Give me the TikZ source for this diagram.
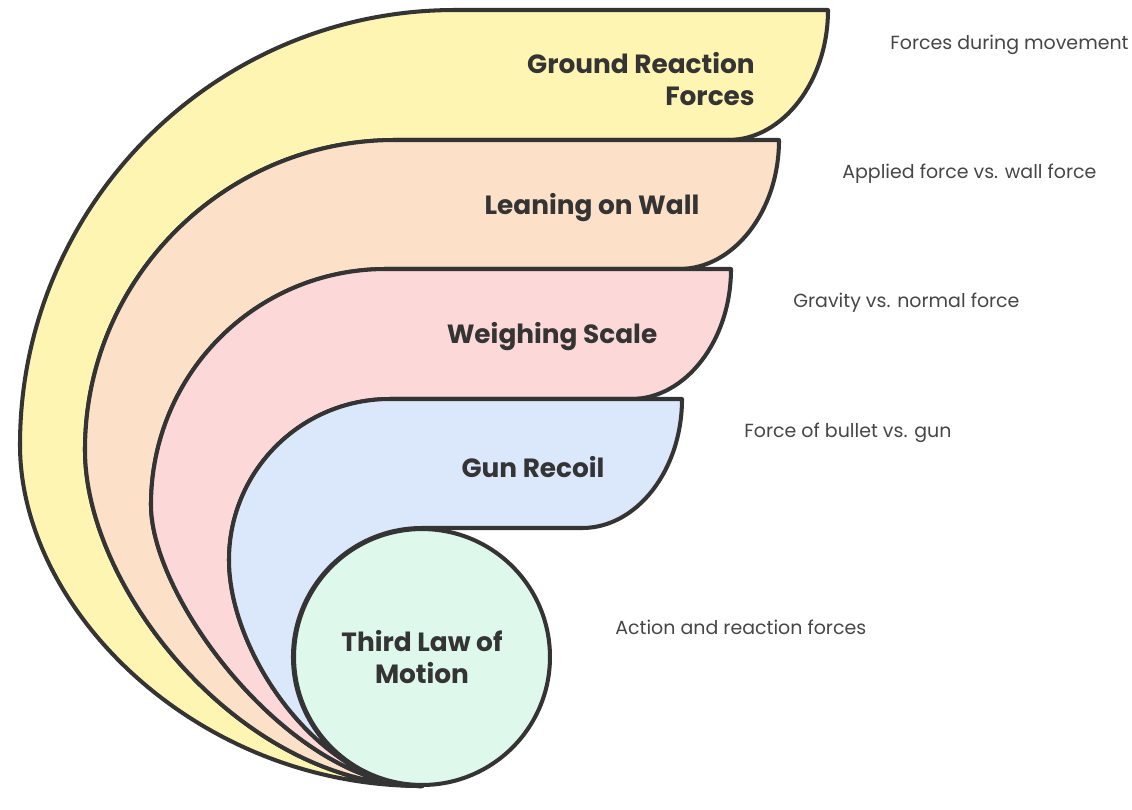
\documentclass[tikz,border=0pt]{standalone}
\usepackage{fontspec}
\setmainfont{Poppins}
\definecolor{ink}{RGB}{52,52,52}
\definecolor{note}{RGB}{70,70,70}
\definecolor{yel}{RGB}{255,245,178}
\definecolor{peach}{RGB}{252,224,200}
\definecolor{pink}{RGB}{253,216,216}
\definecolor{sky}{RGB}{219,231,250}
\definecolor{mint}{RGB}{222,248,236}
\begin{document}
\begin{tikzpicture}[x=0.02cm,y=-0.02cm]
        \tikzset{band/.style = {draw=ink,line width=2.3pt,line join=round}};
        \tikzset{title/.style = {font=\bfseries\fontsize{15}{18.7}\selectfont,text=ink,align=center}};
        \tikzset{note/.style = {font=\fontsize{10.8}{12}\selectfont,text=note,anchor=west,inner xsep=0pt}};
        \useasboundingbox (0,0) rectangle (1132,809);
        \filldraw[band,fill=yel] (422,786) .. controls (197,786) and (20,610) .. (20,445)
            .. controls (20,205) and (215,10) .. (455,10) -- (828,10)
            .. controls (828,81) and (783,140) .. (728,140) -- (395,140)
            .. controls (224,140) and (85,279) .. (85,450)
            .. controls (85,590) and (242,786) .. (422,786) -- cycle;
        \filldraw[band,fill=peach] (422,786) .. controls (242,786) and (85,590) .. (85,450)
            .. controls (85,279) and (224,140) .. (395,140) -- (779,140)
            .. controls (779,211) and (734,269) .. (679,269) -- (386,269)
            .. controls (256,269) and (151,374) .. (151,505)
            .. controls (151,600) and (292,786) .. (422,786) -- cycle;
        \filldraw[band,fill=pink] (422,786) .. controls (292,786) and (151,600) .. (151,505)
            .. controls (151,374) and (256,269) .. (386,269) -- (731,269)
            .. controls (731,340) and (686,399) .. (631,399) -- (390,399)
            .. controls (301,399) and (229,471) .. (229,560)
            .. controls (229,655) and (322,786) .. (422,786) -- cycle;
        \filldraw[band,fill=sky] (422,786) .. controls (322,786) and (229,655) .. (229,560)
            .. controls (229,471) and (301,399) .. (390,399) -- (682,399)
            .. controls (682,470) and (637,528) .. (582,528) -- (422,528)
            .. controls (351,528) and (293,586) .. (293,657)
            .. controls (293,728) and (351,786) .. (422,786) -- cycle;
        \node[band,circle,fill=mint,minimum size=5.12cm,inner sep=0pt,title] (third) at (422,657) {Third Law of\\Motion};
        \node[title,align=right,anchor=east,inner xsep=0pt] (ground) at (755,79) {Ground Reaction\\Forces};
        \node[title] (lean) at (592,208) {Leaning on Wall};
        \node[title] (weigh) at (552,337) {Weighing Scale};
        \node[title] (gun) at (533,467) {Gun Recoil};
        \node[note] (groundnote) at (890,45) {Forces during movement};
        \node[note] (leannote) at (842,174) {Applied force vs. wall force};
        \node[note] (weighnote) at (793,303) {Gravity vs. normal force};
        \node[note] (gunnote) at (744,433) {Force of bullet vs. gun};
        \node[note] (thirdnote) at (615,627) {Action and reaction forces};
    \end{tikzpicture}
\end{document}
